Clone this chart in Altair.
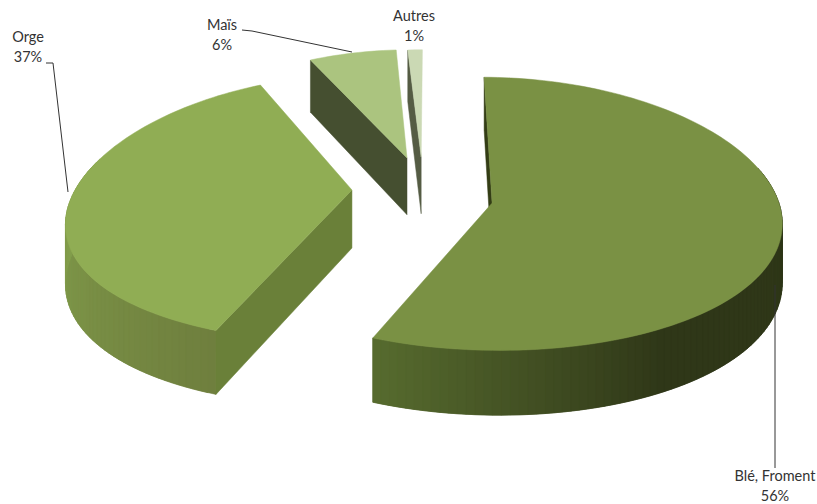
import math
import altair as alt
import pandas as pd

# Crop shares, in pie order starting from twelve o'clock and going clockwise
crops = ["Blé, Froment", "Orge", "Maïs", "Autres"]
shares = [56, 37, 6, 1]

# Per-slice geometry: explosion, horizontal and depth radii, turn in degrees,
# horizontal perspective and tip adjustment
explode = [66, 70, 62, 60]
radius_x = [287, 281, 272, 272]
radius_v = [291, 287, 291, 291]
turn = [0.7, 0.0, 0.0, 0.0]
persp_x = [0.14, 0.18, 0.14, 0.14]
tip_shift = [(3, 3), (-2, -5), (-2, -9), (-1, -10)]

top_colors = ["#7a9144", "#90ad54", "#abc47f", "#cbd9b4"]
cut_colors = ["#333d15", "#6a8039", "#454f30", "#555c44"]
# Rim shading stops per slice: angle and colour
rim_stops = [
    ((150, "#2f3718"), (201, "#566a2e")),
    ((202, "#6f7f3e"), (275, "#85a24e")),
    ((335, "#454f30"), (356, "#454f30")),
    ((356, "#555c44"), (360, "#555c44")),
]

# Camera of the 3D pie
CX, CY, TILT, DEPTH, PERSP_Y = 424.0, 194.0, 134.0, 58.0, 0.10
UNIT = 291.0


def project(wx, wv, kx, low=False):
    sx = 1.0 / (1.0 + kx * wv / UNIT)
    sy = 1.0 / (1.0 + PERSP_Y * wv / UNIT)
    x = CX + wx * sx
    y = CY - TILT * (wv / UNIT) * sy + (DEPTH * sy if low else 0.0)
    return x, y


def mix(a, b, t):
    t = min(1.0, max(0.0, t))
    ca = [int(a[i:i + 2], 16) for i in (1, 3, 5)]
    cb = [int(b[i:i + 2], 16) for i in (1, 3, 5)]
    return "#" + "".join(f"{round(p + (q - p) * t):02x}" for p, q in zip(ca, cb))


rows = []
face_id = 0


def add_face(points, color):
    global face_id
    face_id += 1
    for i, (x, y) in enumerate(points + points[:1]):
        rows.append({"face": face_id, "i": i, "x": x, "y": y, "c": color})


total = sum(shares)
bounds = [0.0]
for v in shares:
    bounds.append(bounds[-1] + 360.0 * v / total)

for idx in (3, 2, 1, 0):  # back slices first
    a0, a1 = bounds[idx] + turn[idx], bounds[idx + 1] + turn[idx]
    mid = math.radians((a0 + a1) / 2)
    ox, ov = explode[idx] * math.sin(mid), explode[idx] * math.cos(mid)
    kx = persp_x[idx]
    n = max(2, int((a1 - a0) / 1.5))
    degs = [a0 + (a1 - a0) * j / n for j in range(n + 1)]
    rim = [(ox + radius_x[idx] * math.sin(math.radians(d)),
            ov + radius_v[idx] * math.cos(math.radians(d))) for d in degs]
    (s0, c0), (s1, c1) = rim_stops[idx]
    # Rim wall, front-facing part only; each strip runs under the next one
    for j in range(n):
        if math.cos(math.radians(degs[j])) < 0.25:
            p, q = rim[j], rim[min(n, j + 2)]
            shade = mix(c0, c1, ((degs[j] + degs[j + 1]) / 2 - s0) / (s1 - s0))
            add_face([project(*p, kx), project(*q, kx), project(*q, kx, low=True), project(*p, kx, low=True)], shade)
    # Tip of the slice
    tx, ty = project(ox, ov, kx)
    bx, by = project(ox, ov, kx, low=True)
    dx, dy = tip_shift[idx]
    # Cut face on the leading edge, which is the one turned to the viewer
    add_face([(tx + dx, ty + dy), project(*rim[0], kx), project(*rim[0], kx, low=True), (bx + dx, by + dy)], cut_colors[idx])
    # Top surface
    add_face([(tx + dx, ty + dy)] + [project(*p, kx) for p in rim], top_colors[idx])

faces = pd.DataFrame(rows)

x_scale = alt.Scale(domain=[0, 817], range=[0, 817], nice=False, zero=False)
y_scale = alt.Scale(domain=[0, 504], range=[0, 504], nice=False, zero=False)

pie = alt.Chart(faces).mark_line(strokeWidth=0.5, interpolate="linear").encode(
    x=alt.X("x:Q", scale=x_scale, axis=None),
    y=alt.Y("y:Q", scale=y_scale, axis=None),
    detail="face:N",
    order="i:Q",
    fill=alt.Fill("c:N", scale=None),
    stroke=alt.Stroke("c:N", scale=None),
)

# Callout leaders
leaders = pd.DataFrame([
    {"n": 1, "i": 0, "x": 775, "y": 285}, {"n": 1, "i": 1, "x": 775, "y": 468},
    {"n": 2, "i": 0, "x": 46, "y": 63}, {"n": 2, "i": 1, "x": 53, "y": 63}, {"n": 2, "i": 2, "x": 68, "y": 192},
    {"n": 3, "i": 0, "x": 242, "y": 30}, {"n": 3, "i": 1, "x": 252, "y": 31}, {"n": 3, "i": 2, "x": 352, "y": 52},
])
leader_lines = alt.Chart(leaders).mark_line(color="#333333", strokeWidth=1).encode(
    x=alt.X("x:Q", scale=x_scale, axis=None),
    y=alt.Y("y:Q", scale=y_scale, axis=None),
    detail="n:N",
    order="i:Q",
)

label_xy = [(775, 477), (28, 38), (222, 26), (414, 17)]
labels = pd.DataFrame([
    {"x": p[0], "y": p[1] + dy, "t": t}
    for name, v, p in zip(crops, shares, label_xy)
    for dy, t in ((0, name), (19.5, f"{v}%"))
])
label_text = alt.Chart(labels).mark_text(font="Lato", fontSize=14.5, color="#333333", align="center", baseline="middle").encode(
    x=alt.X("x:Q", scale=x_scale, axis=None),
    y=alt.Y("y:Q", scale=y_scale, axis=None),
    text="t:N",
)

chart = (pie + leader_lines + label_text).properties(
    width=817, height=504, padding=0, autosize=alt.AutoSizeParams(type="none"),
    background="white",
).configure_view(stroke=None)

chart.save("out.html", embed_options={"renderer": "svg", "actions": False})
